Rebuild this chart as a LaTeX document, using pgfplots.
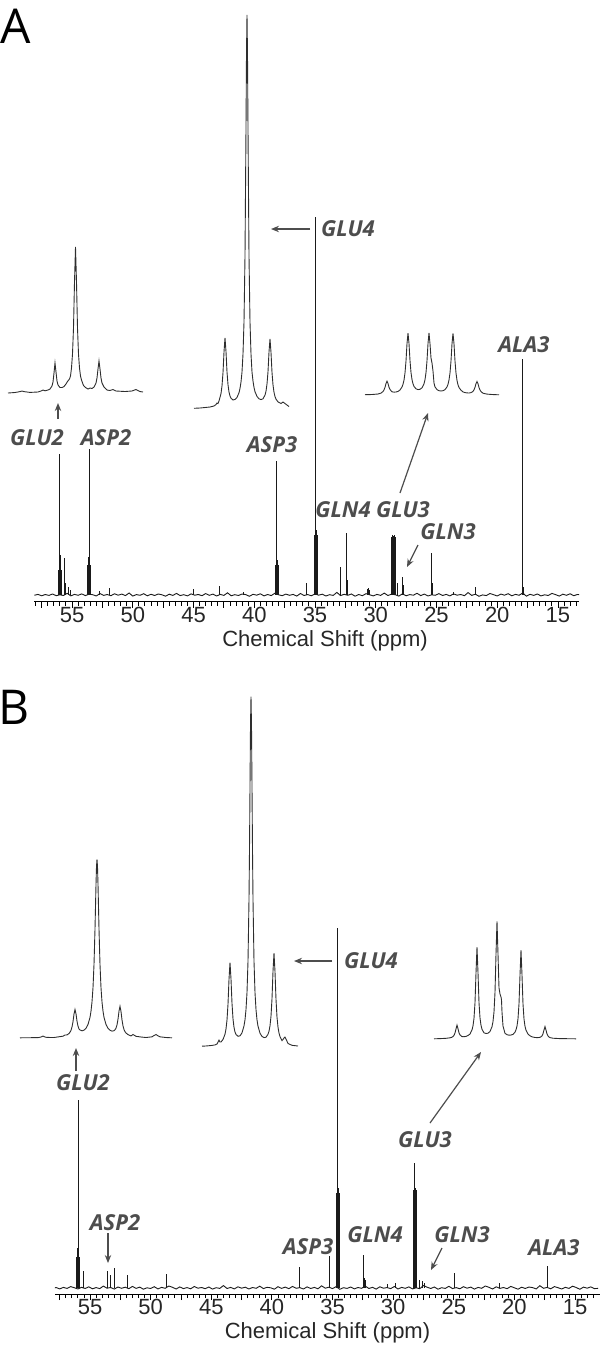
\documentclass[border=0pt]{standalone}
\usepackage{fontspec}
\setmainfont{Liberation Sans}
\newfontfamily\labfont{Open Sans}
\usepackage{pgfplots}
\pgfplotsset{compat=1.18}
\usepackage{pgfplotstable}
\usetikzlibrary{arrows.meta}
\definecolor{labcol}{HTML}{4D4D4D}
\definecolor{speccol}{HTML}{1A1A1A}
\definecolor{insetcol}{HTML}{2E2E2E}

\pgfplotstableread{
x nA nB
13.1 0.3 -0.4
13.4 0.5 -0.6
13.7 -0.7 1.1
14.0 1.2 -0.2
14.3 -0.3 0.9
14.6 0.8 -1.3
14.9 -1.1 0.5
15.2 0.4 1.8
15.5 1.6 -0.4
15.8 -0.5 0.7
16.1 0.2 -1.0
16.4 -0.9 0.3
16.7 1.0 1.4
17.0 -0.4 -0.8
17.3 0.7 0.6
17.6 -1.2 -0.3
17.9 2.1 2.3
18.2 -0.3 -0.9
18.5 0.6 0.4
18.8 -0.8 1.0
19.1 1.3 -0.5
19.4 -0.2 0.8
19.7 0.9 -1.2
20.0 -1.0 0.2
20.3 0.3 1.6
20.6 1.5 -0.7
20.9 -0.6 0.5
21.2 0.1 -0.4
21.5 -1.3 1.2
21.8 0.8 -1.0
22.1 -0.4 0.7
22.4 2.4 2.0
22.7 -0.7 -0.3
23.0 0.5 0.6
23.3 -0.2 -1.1
23.6 1.1 0.9
23.9 -0.9 -0.2
24.2 0.6 1.3
24.5 -0.5 -0.8
24.8 1.4 0.4
25.1 -0.3 -0.6
25.4 0.2 1.7
25.7 -1.0 -0.4
26.0 0.9 0.3
26.3 -0.6 -1.2
26.6 1.7 1.0
26.9 -0.2 -0.5
27.2 0.4 0.8
27.5 -0.8 2.5
27.8 1.2 -0.7
28.1 -1.1 0.2
28.4 0.3 -0.9
28.7 0.8 1.1
29.0 -0.5 -0.3
29.3 1.9 0.6
29.6 -0.4 -1.0
29.9 0.6 1.5
30.2 -0.9 -0.6
30.5 0.2 0.4
30.8 1.3 -0.2
31.1 -0.7 1.2
31.4 0.5 -1.1
31.7 -1.2 0.7
32.0 1.0 -0.5
32.3 -0.3 1.9
32.6 0.7 -0.3
32.9 -0.6 0.5
33.2 2.6 -0.9
33.5 -0.4 1.0
33.8 0.3 -0.4
34.1 -1.0 0.3
34.4 0.8 -1.3
34.7 -0.2 1.4
35.0 1.1 -0.6
35.3 -0.8 0.8
35.6 0.4 -0.2
35.9 -0.5 2.2
36.2 1.5 -0.8
36.5 -1.1 0.6
36.8 0.6 -0.5
37.1 -0.3 1.1
37.4 0.9 -1.0
37.7 -0.7 0.4
38.0 0.2 -0.3
38.3 1.8 1.6
38.6 -0.6 -0.7
38.9 0.5 0.9
39.2 -0.9 -0.4
39.5 1.2 1.3
39.8 -0.2 -1.2
40.1 0.7 0.2
40.4 -1.3 0.7
40.7 0.4 -0.6
41.0 1.0 1.8
41.3 -0.5 -0.3
41.6 0.3 0.5
41.9 -0.8 -1.0
42.2 2.2 0.8
42.5 -0.4 -0.2
42.8 0.6 1.2
43.1 -1.0 -0.9
43.4 0.9 0.6
43.7 -0.3 -0.5
44.0 1.4 2.4
44.3 -0.7 -0.4
44.6 0.5 0.3
44.9 -0.2 -1.1
45.2 1.1 1.0
45.5 -0.9 -0.7
45.8 0.3 0.5
46.1 -0.6 -0.2
46.4 1.6 1.5
46.7 -0.4 -0.8
47.0 0.8 0.4
47.3 -1.2 -0.6
47.6 0.2 1.1
47.9 1.0 -1.0
48.2 -0.5 0.7
48.5 0.7 2.0
48.8 -0.8 -0.3
49.1 1.3 0.6
49.4 -0.3 -0.9
49.7 0.4 1.3
50.0 -1.1 -0.5
50.3 2.0 0.2
50.6 -0.6 -1.2
50.9 0.9 0.9
51.2 -0.2 -0.4
51.5 1.2 1.6
51.8 -0.7 -0.7
52.1 0.5 0.8
52.4 -0.4 -0.3
52.7 1.5 1.0
53.0 -1.0 -1.1
53.3 0.3 0.5
53.6 0.8 -0.2
53.9 -0.6 1.9
54.2 1.1 -0.6
54.5 -0.3 0.4
54.8 0.6 -0.8
55.1 -0.9 1.2
55.4 1.7 -0.5
55.7 -0.5 0.7
56.0 0.2 -1.0
56.3 -0.7 0.3
56.6 1.0 1.4
56.9 -0.4 -0.4
57.2 0.5 0.6
57.5 -0.8 -0.9
57.8 0.6 0.5
58.1 -0.3 -0.6
}\noisetab

\pgfplotsset{
  spec/.style={
    scale only axis, clip=true,
    axis x line*=bottom, axis y line=none,
    axis line style={-, black, line width=0.5pt},
    x dir=reverse,
    xtick={15,20,...,55},
    minor xtick={13.5,14,...,58},
    extra x ticks={17.5,22.5,...,57.5},
    extra x tick labels={},
    tick align=outside,
    major tick length=3pt, minor tick length=2pt,
    every tick/.append style={black, line width=0.45pt},
    xticklabel style={font=\fontsize{11}{13}\selectfont, anchor=center, yshift=-3.5pt, text=black!85},
    /pgf/number format/assume math mode=true,
    xlabel={Chemical Shift (ppm)},
  },
  xlab/.style={xlabel style={font=\fontsize{11}{13}\selectfont, at={(axis description cs:#1,0)}, anchor=center, yshift=-19.5pt, text=black!85}},
  ins/.style={insetcol, line width=0.45pt},
}
\tikzset{
  lab/.style={font=\labfont\bfseries\itshape\fontsize{11}{13}\selectfont, text=labcol, inner sep=0pt},
  arr/.style={labcol, line width=0.6pt, -{Stealth[length=4pt,width=3.2pt]}},
}

\begin{document}
\begin{tikzpicture}[x=0.5pt,y=0.5pt]
\path[use as bounding box] (0,0) rectangle (600,1350);

% ---------------- Panel A main spectrum ----------------
\begin{axis}[spec, xlab=0.534, at={(153.25pt,374pt)}, anchor=south,
  width=272.5pt, height=193.5pt,
  xmin=13.27, xmax=58.13, ymin=-7, ymax=380]
\addplot[speccol, line width=0.45pt] table[x=x,y=nA]{\noisetab};
\addplot[speccol, line width=0.5pt, ycomb] coordinates {
(56.09,25) (56.04,40) (55.99,141) (55.94,40) (55.89,25)
(55.58,37) (55.52,12) (55.30,8) (55.15,5)
(53.70,30) (53.65,38) (53.60,146) (53.55,38) (53.50,30)
(52.70,4) (51.95,7) (44.96,6) (42.90,9) (40.90,3)
(38.23,30) (38.18,35) (38.13,134) (38.08,35) (38.03,30)
(35.66,12)
(35.02,60) (34.97,65) (34.92,378) (34.87,65) (34.82,60)
(32.86,28) (32.41,15) (32.37,62) (32.33,15)
(30.70,6) (30.60,7) (30.50,5)
(28.68,58) (28.63,60) (28.58,58) (28.50,59) (28.45,60) (28.40,58)
(28.25,12) (27.76,18) (27.70,10)
(25.37,42) (25.33,12) (23.60,3) (21.75,8)
(17.92,8) (17.88,236) (17.84,8)
};
\end{axis}

% ---------------- Panel B main spectrum ----------------
\begin{axis}[spec, xlab=0.5, at={(163.75pt,28pt)}, anchor=south,
  width=272.5pt, height=184pt,
  xmin=12.94, xmax=57.89, ymin=-6, ymax=362]
\addplot[speccol, line width=0.45pt] table[x=x,y=nB]{\noisetab};
\addplot[speccol, line width=0.5pt, ycomb] coordinates {
(56.09,31) (56.04,40) (55.99,188) (55.94,40) (55.89,31)
(55.58,17) (55.50,8)
(53.60,17) (53.35,13) (53.02,20) (51.87,13) (48.73,14)
(37.76,21) (35.29,32)
(34.65,95) (34.60,100) (34.55,360) (34.50,100) (34.45,95)
(32.48,33) (32.35,10) (32.30,8) (30.50,4) (29.80,5)
(28.30,98) (28.25,100) (28.20,125) (28.15,100) (28.10,98)
(27.80,8) (27.60,7) (27.45,5)
(24.98,15) (21.20,5) (17.31,22)
};
\end{axis}

% ---------------- Overlay: insets and annotations (pixel frame) ----------------
\begin{axis}[at={(0pt,0pt)}, anchor=south west, scale only axis,
  width=300pt, height=675pt, xmin=0, xmax=600, ymin=0, ymax=1350,
  y dir=reverse, hide axis, clip=false]
% A: GLU2 inset
\addplot[ins] coordinates {
(8,393) (15,392.5) (20,391.6) (22,391) (24,391.6) (30,392.4) (38,392) (41,391) (43,390) (45,390.8)
(48,390) (50,389) (52,386) (53,382) (54,373) (55,363) (56,372) (57,381) (58,385) (60,387.5)
(62,387.5) (64,386.5) (66,384) (67.5,381.5) (69.5,379) (70.5,376) (71.5,368) (72.5,354) (73.5,328)
(74.5,282) (75.5,247) (76.5,282) (77.5,328) (78.5,354) (79.5,368) (80.5,376) (81.5,380) (83.5,385.5)
(85.5,387.5) (88,389) (90,388) (92,388.5) (94,387) (96,383) (97,378) (98,369) (99,361) (100,369)
(101,378) (102,383) (104,387) (107,390) (110,390.5) (113,389.5) (116,391) (125,391.5) (132,391)
(136,389.5) (140,391.5) (143,392)
};
% A: GLU4 inset
\addplot[ins] coordinates {
(194,408.3) (200,408) (205,407.5) (210,407) (214,406) (216,404.5) (217,403) (218,403.5) (219,401)
(221,393.6) (222,385.9) (223,372.7) (224,352) (225,337.8) (226,351.6) (227,371.9) (228,384.7)
(229,392) (230,396) (231,398.2) (233,400) (235,399.4) (237,397.5) (239,392.7) (240,388.5) (241,382)
(242,372) (243,354) (244,322) (245,256) (246,128) (246.5,53) (247,15) (247.5,54) (248,129) (249,256)
(250,322) (251,354) (252,372) (253,381) (254,387.4) (255,391.7) (257,396.4) (259,398.8) (261,399.6)
(263,398.8) (265,395.1) (266,391.2) (267,384) (268,371.8) (269,352) (270,339) (271,352.4) (272,372.3)
(273,384.9) (274,392.3) (275,396.5) (276,399.1) (278,401.9) (281,403.5) (283,402) (285,403.5) (289,406.5)
};
% A: GLU3 inset
\addplot[ins] coordinates {
(365,394.7) (372,394.5) (378,394) (381,393.1) (383,391.5) (384,389.9) (385,387.3) (386,383.6) (387,381.2)
(388,383.5) (389,387.2) (390,389.5) (392,391.8) (394,392.1) (396,392) (398,391.4) (400,390) (402,387)
(403,384.3) (404,380.1) (405,372.9) (406,360.9) (407,343.6) (408,333.2) (409,343.5) (410,360.6)
(411,372.5) (412,379.6) (413,383.8) (414,386.4) (416,388.8) (418,389.6) (420,389.3) (422,387.8)
(424,383.8) (425,379.7) (426,372.6) (427,360.7) (428,343.6) (429,332.8) (430,343.8) (431,358) (432,363)
(433,371) (434,383) (435,386.9) (437,389.6) (439,390.7) (441,391) (443,390.7) (445,389.6) (447,386.9)
(448,384.3) (449,380) (450,372.9) (451,361) (452,343.8) (453,333.3) (454,343.9) (455,361.1) (456,373.1)
(457,380.4) (458,384.9) (459,387.5) (461,390.2) (463,391.9) (465,392.6) (467,392.9) (469,393) (471,392.6)
(472,392.1) (473,391.3) (474,389.8) (475,387.3) (476,383.6) (477,381.5) (478,383.7) (479,387.5) (480,390)
(481,391.6) (483,393.2) (487,394.1) (492,394.5) (499,394.8)
};
% B: GLU2 inset
\addplot[ins] coordinates {
(20,1037.8) (30,1037.7) (38,1037.6) (41,1037) (43,1036) (45,1037) (47,1037.4) (54,1037.5) (60,1036.6)
(63,1036.2) (65,1035) (67,1034.9) (69,1033.5) (70,1032.2) (71,1030.3) (72,1027) (73,1021.7) (74,1014.1)
(75,1009.5) (76,1013.8) (77,1021.1) (78,1026.1) (79,1029) (80,1029.9) (82,1030.8) (84,1030.1) (86,1028.3)
(88,1024.5) (90,1017.4) (91,1011.2) (92,1001.9) (93,987.7) (94,964.5) (95,929) (96,884.5) (96.5,866.5)
(97,859.4) (97.5,866.5) (98,884.3) (99,928.9) (100,964.6) (101,987.8) (102,1001.9) (103,1011.1)
(104,1017.3) (106,1024.5) (108,1028.3) (110,1030.2) (112,1031.1) (114,1030.7) (115,1029.8) (116,1028.1)
(117,1024.9) (118,1019.2) (119,1011.1) (120,1006.3) (121,1011.5) (122,1019.9) (123,1025.9) (124,1029.5)
(125,1031.6) (126,1033) (128,1034.6) (131,1035.9) (133,1034.5) (136,1036.3) (141,1037) (146,1037.5)
(152,1036.8) (154,1035.5) (156,1034.5) (158,1035.8) (160,1036.8) (166,1037.5) (172,1037.8)
};
% B: GLU4 inset
\addplot[ins] coordinates {
(202,1046.2) (207,1045.9) (212,1045.4) (215,1044.9) (217,1044) (218,1042) (219,1040) (220,1042)
(221,1042) (223,1039.5) (225,1034.2) (226,1029) (227,1020) (228,1004.2) (229,979.4) (230,962.6)
(231,979) (232,1003.4) (233,1018.8) (234,1027.3) (235,1032) (236,1034.4) (238,1036.3) (240,1035.8)
(242,1032.8) (244,1025.9) (245,1019.8) (246,1009.5) (247,992.5) (248,961.2) (249,899.4) (249.5,850)
(250,787) (250.5,725) (251,696.6) (251.5,725) (252,787) (252.5,850) (253,899.6) (254,961.3) (255,992.6)
(256,1009.6) (257,1019.9) (258,1026.1) (260,1033.2) (262,1036.4) (264,1037.6) (266,1037.2) (268,1034.3)
(269,1031.2) (270,1025.8) (271,1016.2) (272,998.7) (273,971.3) (274,953.1) (275,971.7) (276,999.4)
(277,1017.2) (278,1027.2) (279,1033) (280,1036.6) (282,1040.6) (283,1039.5) (284,1038) (285,1037)
(286,1039) (288,1043.5) (292,1045.3) (298,1046)
};
% B: GLU3 inset
\addplot[ins] coordinates {
(434,1038.8) (440,1038.6) (446,1038.3) (450,1037.8) (452,1037.2) (453,1036.5) (454,1035.3) (455,1033.1)
(456,1028.9) (457,1025.1) (458,1028.7) (459,1032.8) (460,1034.9) (462,1036.6) (464,1036.7) (466,1036.4)
(468,1035.5) (470,1034) (472,1029.9) (473,1025.8) (474,1018.2) (475,1002.8) (476,972.9) (477,947.1)
(478,972.8) (479,1002.6) (480,1017.9) (481,1025.3) (482,1029.3) (484,1032.8) (486,1033.5) (488,1033.2)
(490,1031.5) (492,1026.7) (493,1021.5) (494,1011.9) (495,992.3) (496,954.1) (497,921.5) (498,954.1)
(499,988) (500,994) (501,997) (501.5,1000) (502,1012) (503,1026) (505,1033.3) (507,1034.7) (509,1035.2)
(511,1035) (513,1034.4) (515,1032.1) (516,1029.8) (517,1026) (518,1018.8) (519,1003.9) (520,974.9)
(521,950.2) (522,975) (523,1004) (524,1019) (525,1026.3) (526,1030.2) (528,1034) (530,1035.8) (532,1036.8)
(535,1037.5) (538,1037.6) (540,1037.3) (541,1036.8) (542,1035.9) (543,1033.8) (544,1029.9) (545,1026.6)
(546,1030) (547,1033.9) (548,1036) (549,1037) (550,1037.6) (553,1038.2) (560,1038.6) (576,1038.8)
};

% panel letters
\node[font=\labfont\fontsize{24}{28}\selectfont, inner sep=0pt] at (axis cs:15.5,26) {A};
\node[font=\labfont\fontsize{24}{28}\selectfont, inner sep=0pt] at (axis cs:14.5,707) {B};

% A labels
\node[lab] at (axis cs:348,229) {GLU4};
\draw[arr] (axis cs:310,229) -- (axis cs:271,229);
\node[lab] at (axis cs:37,438) {GLU2};
\node[lab] at (axis cs:106,438) {ASP2};
\draw[arr] (axis cs:58,419) -- (axis cs:58,403);
\node[lab] at (axis cs:272,445) {ASP3};
\node[lab] at (axis cs:343,510) {GLN4};
\node[lab] at (axis cs:403,510) {GLU3};
\draw[arr] (axis cs:400,493) -- (axis cs:428,413);
\node[lab] at (axis cs:448,532) {GLN3};
\draw[arr] (axis cs:418,545) -- (axis cs:407,567);
\node[lab] at (axis cs:524,345) {ALA3};

% B labels
\node[lab] at (axis cs:371,961) {GLU4};
\draw[arr] (axis cs:332,961) -- (axis cs:294,961);
\node[lab] at (axis cs:83,1083) {GLU2};
\draw[arr] (axis cs:76,1071) -- (axis cs:76,1048);
\node[lab] at (axis cs:425,1140) {GLU3};
\draw[arr] (axis cs:430,1123) -- (axis cs:481,1052);
\node[lab] at (axis cs:115,1223) {ASP2};
\draw[arr] (axis cs:108,1233) -- (axis cs:108,1263);
\node[lab] at (axis cs:308,1247) {ASP3};
\node[lab] at (axis cs:375,1235) {GLN4};
\node[lab] at (axis cs:462,1235) {GLN3};
\draw[arr] (axis cs:442,1248) -- (axis cs:431,1270);
\node[lab] at (axis cs:554,1248) {ALA3};
\end{axis}
\end{tikzpicture}
\end{document}
